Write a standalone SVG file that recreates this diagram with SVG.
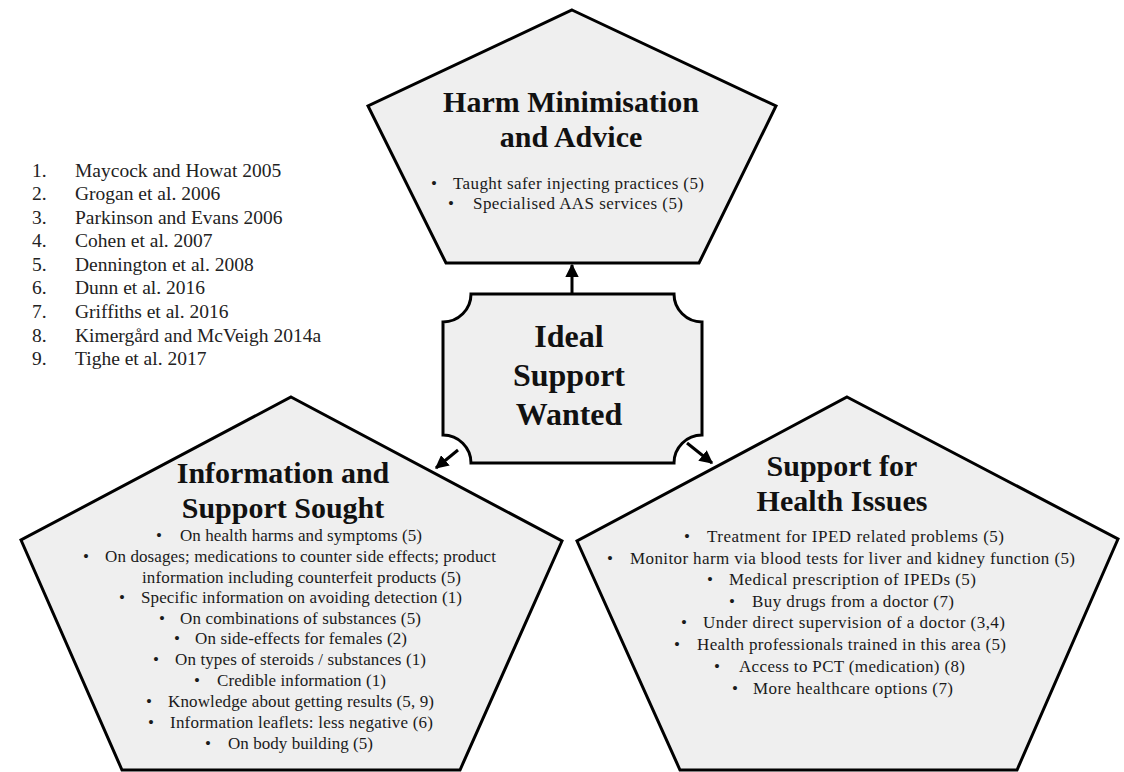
<svg xmlns="http://www.w3.org/2000/svg" width="1124" height="772" viewBox="0 0 1124 772">
<style>
.shape{fill:#efefef;stroke:#000;stroke-width:3;stroke-linejoin:miter}
.t{font-family:"Liberation Serif","Times New Roman",serif;font-size:17px;fill:#1a1a1a}
.b{font-family:"Liberation Serif","Times New Roman",serif;font-size:17px;fill:#1a1a1a;text-anchor:middle}
.h{font-family:"Liberation Serif","Times New Roman",serif;font-size:30px;font-weight:bold;fill:#111;text-anchor:middle}
.c{font-family:"Liberation Serif","Times New Roman",serif;font-size:32px;font-weight:bold;fill:#111;text-anchor:middle}
.l{font-family:"Liberation Serif","Times New Roman",serif;font-size:19.5px;fill:#222}
.conn{stroke:#000;stroke-width:3;fill:none}
</style>
<defs>
<marker id="arr" viewBox="0 0 10 10" refX="9" refY="5" markerWidth="4.5" markerHeight="4.5" orient="auto" markerUnits="strokeWidth">
<path d="M0,0 L10,5 L0,10 z" fill="#000"/>
</marker>
</defs>
<rect width="1124" height="772" fill="#fff"/>

<g id="legend">
<text class="l" x="32" y="177">1.</text><text class="l" x="75" y="177">Maycock and Howat 2005</text>
<text class="l" x="32" y="200">2.</text><text class="l" x="75" y="200">Grogan et al. 2006</text>
<text class="l" x="32" y="224">3.</text><text class="l" x="75" y="224">Parkinson and Evans 2006</text>
<text class="l" x="32" y="247">4.</text><text class="l" x="75" y="247">Cohen et al. 2007</text>
<text class="l" x="32" y="271">5.</text><text class="l" x="75" y="271">Dennington et al. 2008</text>
<text class="l" x="32" y="294">6.</text><text class="l" x="75" y="294">Dunn et al. 2016</text>
<text class="l" x="32" y="318">7.</text><text class="l" x="75" y="318">Griffiths et al. 2016</text>
<text class="l" x="32" y="342">8.</text><text class="l" x="75" y="342">Kimergård and McVeigh 2014a</text>
<text class="l" x="32" y="365">9.</text><text class="l" x="75" y="365">Tighe et al. 2017</text>
</g>

<g id="harm-minimisation">
<polygon class="shape" points="572,10 776,106 699,263 446,263 368,106"/>
<text class="h" x="571" y="112">Harm Minimisation</text>
<text class="h" x="571" y="147">and Advice</text>
<text class="b" x="434" y="189">•</text><text class="t" x="453" y="189" textLength="251" lengthAdjust="spacing">Taught safer injecting practices (5)</text>
<text class="b" x="451" y="209">•</text><text class="t" x="473" y="209" textLength="210" lengthAdjust="spacing">Specialised AAS services (5)</text>
</g>

<g id="ideal-support">
<path class="shape" d="M471,294 L674,294 A28,28 0 0 0 702,322 L702,435 A28,28 0 0 0 674,463 L471,463 A28,28 0 0 0 443,435 L443,322 A28,28 0 0 0 471,294 Z"/>
<text class="c" x="569" y="347">Ideal</text>
<text class="c" x="569" y="386">Support</text>
<text class="c" x="569" y="425">Wanted</text>
</g>

<g id="information-support">
<polygon class="shape" points="291,397 562,541 460,770 122,770 21,540"/>
<text class="h" x="283" y="483">Information and</text>
<text class="h" x="283" y="518">Support Sought</text>
<text class="b" x="159" y="541">•</text><text class="t" x="180" y="541" textLength="242" lengthAdjust="spacing">On health harms and symptoms (5)</text>
<text class="b" x="86" y="562">•</text><text class="t" x="105" y="562" textLength="391" lengthAdjust="spacing">On dosages; medications to counter side effects; product</text>
<text class="t" x="142" y="583" textLength="319" lengthAdjust="spacing">information including counterfeit products (5)</text>
<text class="b" x="122" y="603">•</text><text class="t" x="141" y="603" textLength="321" lengthAdjust="spacing">Specific information on avoiding detection (1)</text>
<text class="b" x="162" y="624">•</text><text class="t" x="180" y="624" textLength="241" lengthAdjust="spacing">On combinations of substances (5)</text>
<text class="b" x="177" y="644">•</text><text class="t" x="195" y="644" textLength="212" lengthAdjust="spacing">On side-effects for females (2)</text>
<text class="b" x="156" y="665">•</text><text class="t" x="175" y="665" textLength="251" lengthAdjust="spacing">On types of steroids / substances (1)</text>
<text class="b" x="197" y="686">•</text><text class="t" x="217" y="686" textLength="169" lengthAdjust="spacing">Credible information (1)</text>
<text class="b" x="149" y="707">•</text><text class="t" x="168" y="707" textLength="266" lengthAdjust="spacing">Knowledge about getting results (5, 9)</text>
<text class="b" x="151" y="728">•</text><text class="t" x="170" y="728" textLength="263" lengthAdjust="spacing">Information leaflets: less negative (6)</text>
<text class="b" x="208" y="749">•</text><text class="t" x="228" y="749" textLength="145" lengthAdjust="spacing">On body building (5)</text>
</g>

<g id="health-issues">
<polygon class="shape" points="847,397 1118,539 1017,770 680,770 577,541"/>
<text class="h" x="842" y="476">Support for</text>
<text class="h" x="842" y="511">Health Issues</text>
<text class="b" x="687" y="542">•</text><text class="t" x="707" y="542" textLength="297" lengthAdjust="spacing">Treatment for IPED related problems (5)</text>
<text class="b" x="610" y="564">•</text><text class="t" x="630" y="564" textLength="445" lengthAdjust="spacing">Monitor harm via blood tests for liver and kidney function (5)</text>
<text class="b" x="710" y="585">•</text><text class="t" x="729" y="585" textLength="247" lengthAdjust="spacing">Medical prescription of IPEDs (5)</text>
<text class="b" x="732" y="607">•</text><text class="t" x="752" y="607" textLength="202" lengthAdjust="spacing">Buy drugs from a doctor (7)</text>
<text class="b" x="684" y="628">•</text><text class="t" x="703" y="628" textLength="302" lengthAdjust="spacing">Under direct supervision of a doctor (3,4)</text>
<text class="b" x="677" y="650">•</text><text class="t" x="697" y="650" textLength="309" lengthAdjust="spacing">Health professionals trained in this area (5)</text>
<text class="b" x="717" y="672">•</text><text class="t" x="739" y="672" textLength="226" lengthAdjust="spacing">Access to PCT (medication) (8)</text>
<text class="b" x="735" y="694">•</text><text class="t" x="753" y="694" textLength="200" lengthAdjust="spacing">More healthcare options (7)</text>
</g>

<g id="connectors">
<line class="conn" x1="572" y1="293" x2="572" y2="265" marker-end="url(#arr)"/>
<line class="conn" x1="458" y1="450" x2="436" y2="468" marker-end="url(#arr)"/>
<line class="conn" x1="687" y1="443" x2="712" y2="463" marker-end="url(#arr)"/>
</g>
</svg>
